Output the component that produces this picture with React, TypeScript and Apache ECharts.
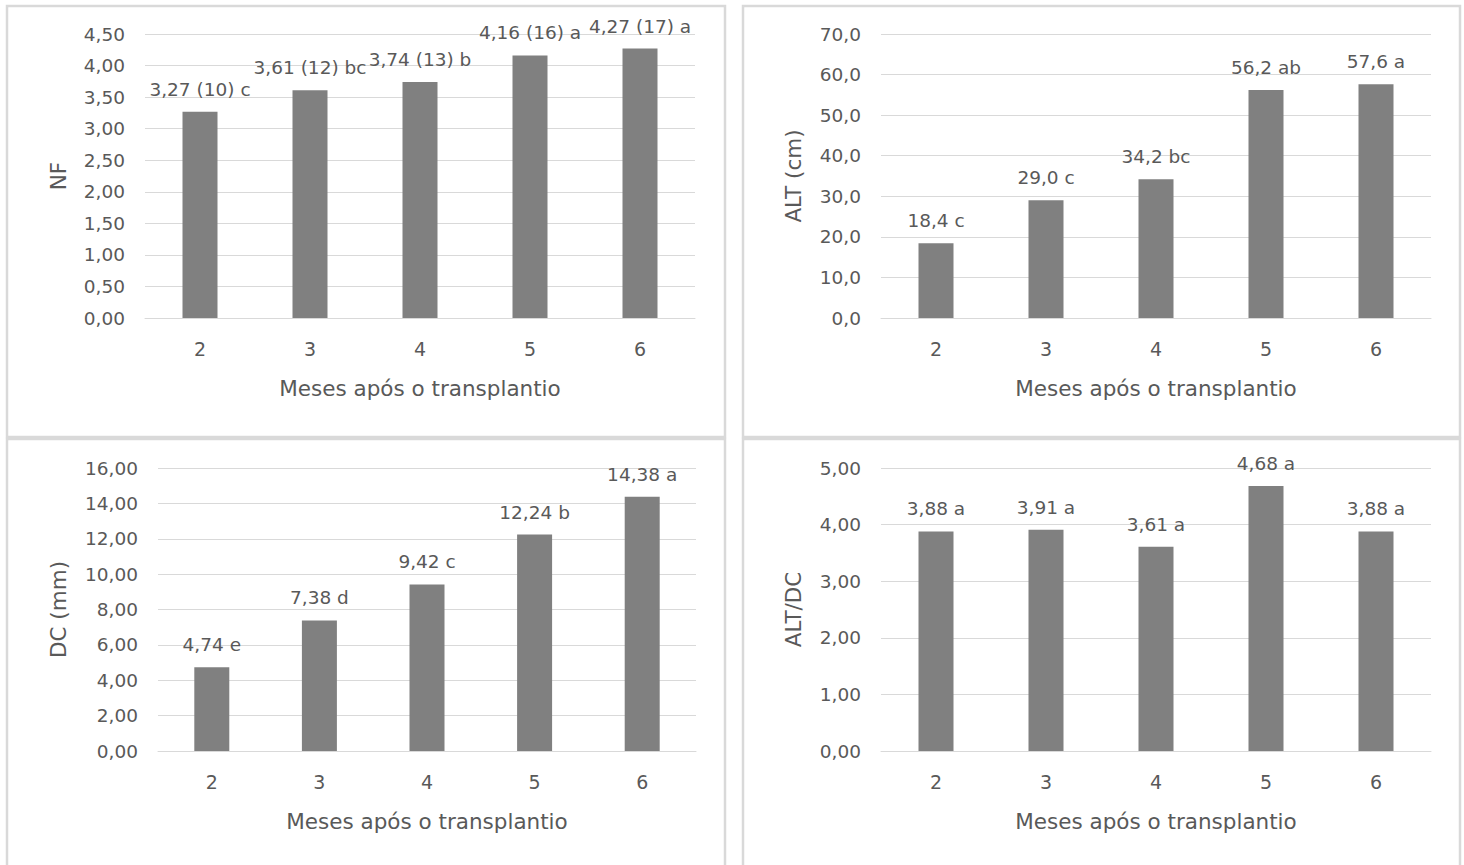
import React, { useEffect, useRef } from "react";
import * as echarts from "echarts";

const categories = ["2", "3", "4", "5", "6"];

const nfValues = [3.27, 3.61, 3.74, 4.16, 4.27];
const nfCounts = [10, 12, 13, 16, 17];
const nfLetters = ["c", "bc", "b", "a", "a"];

const altValues = [18.4, 29.0, 34.2, 56.2, 57.6];
const altLetters = ["c", "c", "bc", "ab", "a"];

const dcValues = [4.74, 7.38, 9.42, 12.24, 14.38];
const dcLetters = ["e", "d", "c", "b", "a"];

const ratioValues = [3.88, 3.91, 3.61, 4.68, 3.88];
const ratioLetters = ["a", "a", "a", "a", "a"];

const xTitle = "Meses após o transplantio";
const yTitles = ["NF", "ALT (cm)", "DC (mm)", "ALT/DC"];
const yMax = [4.5, 70, 16, 5];
const yInterval = [0.5, 10, 2, 1];
const yDecimals = [2, 1, 2, 2];

const FONT = "DejaVu Sans";
const TXT = "#595959";
const GRIDC = "#d9d9d9";
const BAR = "#808080";

const fmt = (v: number, d: number) => v.toFixed(d).replace(".", ",");

export default function App() {
  const ref = useRef<HTMLDivElement>(null);
  useEffect(() => {
    if (!ref.current) return;
    const chart = echarts.init(ref.current, null, { renderer: "svg" });
    const grids = [
      { left: 145, top: 34, width: 550, height: 284 },
      { left: 881, top: 34, width: 550, height: 284 },
      { left: 158, top: 468, width: 538, height: 283 },
      { left: 881, top: 468, width: 550, height: 283 },
    ];
    const nameGaps = [76, 77, 89, 77];
    const labelsets = [
      nfValues.map((v, i) => `${fmt(v, 2)} (${nfCounts[i]}) ${nfLetters[i]}`),
      altValues.map((v, i) => `${fmt(v, 1)} ${altLetters[i]}`),
      dcValues.map((v, i) => `${fmt(v, 2)} ${dcLetters[i]}`),
      ratioValues.map((v, i) => `${fmt(v, 2)} ${ratioLetters[i]}`),
    ];
    const values = [nfValues, altValues, dcValues, ratioValues];
    const option: any = {
      animation: false,
      backgroundColor: "#fff",
      textStyle: { fontFamily: FONT, color: TXT },
      graphic: [
        { type: "rect", shape: { x: 7, y: 6, width: 718, height: 431 }, style: { fill: "none", stroke: GRIDC, lineWidth: 2.5 } },
        { type: "rect", shape: { x: 743, y: 6, width: 717, height: 431 }, style: { fill: "none", stroke: GRIDC, lineWidth: 2.5 } },
        { type: "rect", shape: { x: 7, y: 439, width: 718, height: 440 }, style: { fill: "none", stroke: GRIDC, lineWidth: 2.5 } },
        { type: "rect", shape: { x: 743, y: 439, width: 717, height: 440 }, style: { fill: "none", stroke: GRIDC, lineWidth: 2.5 } },
      ],
      grid: grids,
      xAxis: grids.map((_, i) => ({
        type: "category",
        gridIndex: i,
        data: categories,
        axisLine: { show: true, lineStyle: { color: GRIDC, width: 1 } },
        axisTick: { show: false },
        axisLabel: { color: TXT, fontFamily: FONT, fontSize: 19, margin: 21 },
        name: xTitle,
        nameLocation: "middle",
        nameGap: 59,
        nameTextStyle: { color: TXT, fontFamily: FONT, fontSize: 21.5 },
      })),
      yAxis: grids.map((_, i) => ({
        type: "value",
        gridIndex: i,
        min: 0,
        max: yMax[i],
        interval: yInterval[i],
        axisLine: { show: false },
        axisTick: { show: false },
        splitLine: { lineStyle: { color: GRIDC, width: 1 } },
        axisLabel: {
          color: TXT,
          fontFamily: FONT,
          fontSize: 18.5,
          margin: 20,
          formatter: (v: number) => fmt(v, yDecimals[i]),
        },
        name: yTitles[i],
        nameLocation: "middle",
        nameGap: nameGaps[i],
        nameTextStyle: { color: TXT, fontFamily: FONT, fontSize: 21.5 },
      })),
      series: values.map((vals, i) => ({
        type: "bar",
        xAxisIndex: i,
        yAxisIndex: i,
        data: vals,
        barWidth: 35,
        itemStyle: { color: BAR },
        label: {
          show: true,
          position: "top",
          distance: 13,
          color: TXT,
          fontFamily: FONT,
          fontSize: 18.5,
          formatter: (p: any) => labelsets[i][p.dataIndex],
        },
      })),
    };
    chart.setOption(option);
    return () => chart.dispose();
  }, []);
  return (
    <div
      ref={ref}
      style={{ position: "fixed", left: 0, top: 0, width: 1464, height: 865 }}
    />
  );
}
